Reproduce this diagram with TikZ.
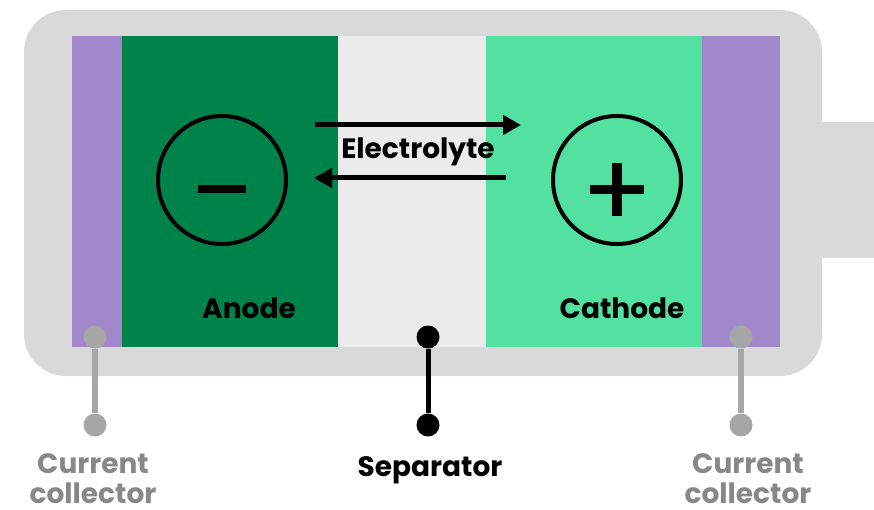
\documentclass[tikz,border=0pt]{standalone}
\usepackage{fontspec}
\setmainfont{Poppins}
\usetikzlibrary{arrows.meta}
\definecolor{casing}{HTML}{D9D9D9}
\definecolor{collector}{HTML}{A188CA}
\definecolor{anodegreen}{HTML}{00834A}
\definecolor{sepgray}{HTML}{EBEBEB}
\definecolor{cathgreen}{HTML}{52E1A0}
\definecolor{pingray}{HTML}{A6A6A6}
\definecolor{labelgray}{HTML}{888888}
\begin{document}
\begin{tikzpicture}[x=1pt,y=-1pt,
  lbl/.style={font=\fontsize{28}{33}\selectfont\bfseries, inner sep=0pt, anchor=base, align=center, text depth=0pt},
  ion/.style={line width=5pt, -{Triangle[length=18pt,width=19pt]}},
  sign/.style={draw=black, line width=4pt, circle, minimum size=128pt, inner sep=0pt},
  pindot/.style={circle, inner sep=0pt, minimum size=23pt}]
\useasboundingbox (0,0) rectangle (874,510);
% casing
\fill[casing] (815,122) rectangle (874,258);
\fill[casing, rounded corners=42pt] (24,10) rectangle (822,376);
% layers
\fill[collector] (72,36) rectangle (122,347);
\fill[anodegreen] (122,36) rectangle (338,347);
\fill[sepgray] (338,36) rectangle (486,347);
\fill[cathgreen] (486,36) rectangle (702,347);
\fill[collector] (702,36) rectangle (780,347);
% signs
\node[sign] (minus) at (222,180) {};
\fill (198,185) rectangle (246,193);
\node[sign] (plus) at (617,180) {};
\fill (590,185) rectangle (644,194);
\fill (612,163) rectangle (622,216);
% arrows
\coordinate (a1s) at (315,125);
\coordinate (a1e) at (521,125);
\coordinate (a2s) at (506,178);
\coordinate (a2e) at (314,178);
\draw[ion] (a1s) -- (a1e);
\draw[ion] (a2s) -- (a2e);
\node[lbl] (electrolyte) at (418,159) {Electrolyte};
\node[lbl] (anode) at (249,318) {Anode};
\node[lbl] (cathode) at (622,318) {Cathode};
% pins
\node[pindot, fill=pingray] (lc1) at (95,337) {};
\node[pindot, fill=pingray] (lc2) at (95,425) {};
\draw[pingray, line width=6pt] (lc1) -- (lc2);
\node[pindot, fill=pingray] (rc1) at (741,337) {};
\node[pindot, fill=pingray] (rc2) at (741,425) {};
\draw[pingray, line width=6pt] (rc1) -- (rc2);
\node[pindot, fill=black] (s1) at (428,337) {};
\node[pindot, fill=black] (s2) at (428,425) {};
\draw[black, line width=5pt] (s1) -- (s2);
% labels
\node[lbl] (separator) at (430,476) {Separator};
\node[lbl, text=labelgray] (cc1) at (93,473) {Current};
\node[lbl, text=labelgray] (cc1b) at (93,503) {collector};
\node[lbl, text=labelgray] (cc2) at (748,473) {Current};
\node[lbl, text=labelgray] (cc2b) at (748,503) {collector};
\end{tikzpicture}
\end{document}
